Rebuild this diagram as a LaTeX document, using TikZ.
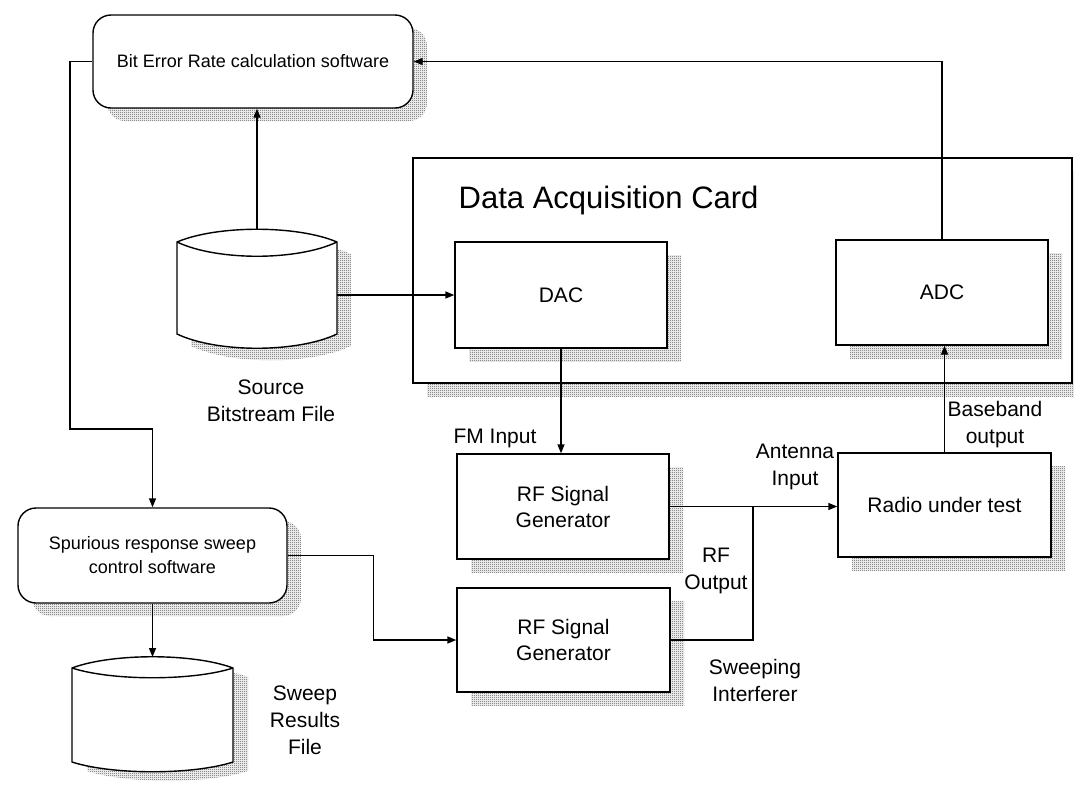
\documentclass[tikz,border=0pt]{standalone}
\usepackage{fontspec}
\setmainfont{Liberation Sans}
\usetikzlibrary{arrows.meta,shadows,patterns}

% fine checker halftone used for the drop shadows
\pgfdeclarepatternformonly{halfdots}{\pgfpoint{0pt}{0pt}}{\pgfpoint{2pt}{2pt}}{\pgfpoint{2pt}{2pt}}{%
  \pgfpathrectangle{\pgfpoint{0pt}{0pt}}{\pgfpoint{1pt}{1pt}}%
  \pgfpathrectangle{\pgfpoint{1pt}{1pt}}{\pgfpoint{1pt}{1pt}}%
  \pgfusepath{fill}}

\begin{document}
\begin{tikzpicture}[x=1pt,y=-1pt,
  line width=1.4pt,
  >={Triangle[length=9pt,width=7pt]},
  halftone/.style={pattern=halfdots, pattern color=black!70},
  shade/.style={drop shadow={shadow xshift=14pt, shadow yshift=-13pt, opacity=1, halftone}},
  box/.style={draw, fill=white, shade, inner sep=0pt, align=center,
              font=\fontsize{21}{26}\selectfont},
  soft/.style={box, rounded corners=18pt, font=\fontsize{18}{24}\selectfont},
  lbl/.style={align=center, inner sep=0pt, font=\fontsize{21}{27}\selectfont},
  anchorbox/.style={inner sep=0pt, outer sep=0pt}
]
\useasboundingbox (0,0) rectangle (1074,785);

% acquisition card and its converters
\node[box, minimum width=659, minimum height=225] (card) at (742.5,270.5) {};
\node[anchor=base west, inner sep=0pt, font=\fontsize{31}{36}\selectfont] (title) at (458,208) {Data Acquisition Card};
\node[box, minimum width=212, minimum height=106] (dac) at (561,295) {DAC};
\node[box, minimum width=212, minimum height=105] (adc) at (942,292.5) {ADC};

% software blocks
\node[soft, minimum width=320, minimum height=93] (ber) at (253,61.5) {Bit Error Rate calculation software};
\node[soft, minimum width=269, minimum height=95] (spur) at (152.5,555.5) {Spurious response sweep\\control software};

% RF chain
\node[box, minimum width=212, minimum height=105] (rf1) at (563,506.5) {RF Signal\\Generator};
\node[box, minimum width=213, minimum height=104] (rf2) at (563.5,640) {RF Signal\\Generator};
\node[box, minimum width=213, minimum height=104] (radio) at (944.5,505) {Radio under test};

% source bitstream file (drum)
\fill[halftone, shift={(14,12)}] (177,242) .. controls (217,225) and (297,225) .. (337,242)
   -- (337,334) .. controls (297,353) and (217,353) .. (177,334) -- cycle;
\draw[fill=white] (177,242) .. controls (217,225) and (297,225) .. (337,242)
   -- (337,334) .. controls (297,353) and (217,353) .. (177,334) -- cycle;
\draw (177,242) .. controls (217,261) and (297,261) .. (337,242);
\node[anchorbox, minimum width=160, minimum height=119] (src) at (257,288.5) {};

% sweep results file (drum)
\fill[halftone, shift={(15,9)}] (72,668) .. controls (112,653) and (193,653) .. (233,668)
   -- (233,762) .. controls (193,775) and (112,775) .. (72,762) -- cycle;
\draw[fill=white] (72,668) .. controls (112,653) and (193,653) .. (233,668)
   -- (233,762) .. controls (193,775) and (112,775) .. (72,762) -- cycle;
\draw (72,668) .. controls (112,681) and (193,681) .. (233,668);
\node[anchorbox, minimum width=161, minimum height=115] (sweep) at (152.5,714.5) {};

% connectors
\coordinate (bend) at (70,429);
\coordinate (tap) at (753,506.5);
\draw[->] (src.east |- dac.west) -- (dac.west);
\draw[->] (src.north) -- (src.north |- ber.south);
\draw[->] (adc.north) |- (ber.east);
\draw[->] (ber.west) -| (bend) -| (spur.north);
\draw[->] (spur.south) -- (sweep.north);
\draw[->] (dac.south) -- (dac.south |- rf1.north);
\draw[->] (rf1.east) -- (rf1.east -| radio.west);
\draw (rf2.east) -| (tap);
\draw[->] (spur.east) -- ++(86,0) |- (rf2.west);
\draw[->] (radio.north) -- (radio.north |- adc.south);

% labels
\node[lbl] (srclbl) at (271,401) {Source\\Bitstream File};
\node[lbl] (swlbl) at (305,720) {Sweep\\Results\\File};
\node[lbl] (fmlbl) at (495,438) {FM Input};
\node[lbl] (antlbl) at (795,467) {Antenna\\Input};
\node[lbl] (bblbl) at (995,425) {Baseband\\output};
\node[lbl] (rfolbl) at (716,571) {RF\\Output};
\node[lbl] (swplbl) at (755,680) {Sweeping\\Interferer};
\end{tikzpicture}
\end{document}
